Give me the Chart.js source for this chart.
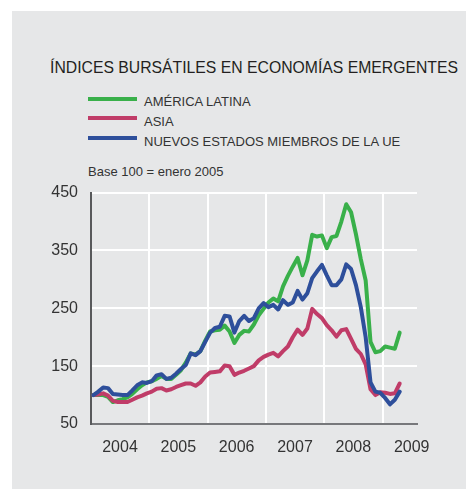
<!DOCTYPE html>
<html>
<head>
<meta charset="utf-8">
<script src="https://cdn.jsdelivr.net/npm/chart.js@4.4.0/dist/chart.umd.min.js"></script>
<style>
  body { margin: 0; width: 466px; height: 489px; background: #fff; position: relative; overflow: hidden;
         font-family: "Liberation Sans", Arial, sans-serif; color: #231f20; }
  #panel { position: absolute; left: 12px; top: 11px; right: 0; bottom: 0; background: #e6e7e8; }
  .txt { position: absolute; white-space: nowrap; }
  #title { left: 50px; top: 59px; font-size: 16.5px; line-height: 16.5px; transform-origin: 0 0; }
  .key { position: absolute; left: 88px; width: 49px; height: 4px; }
  .lbl { left: 144px; font-size: 13px; line-height: 13px; color: #333; }
  #base { left: 88px; top: 165px; font-size: 13px; line-height: 13px; color: #333; }
  #wrap { position: absolute; left: 0; top: 170px; width: 466px; height: 310px; }
</style>
</head>
<body>
<div id="panel"></div>
<div class="txt" id="title">ÍNDICES BURSÁTILES EN ECONOMÍAS EMERGENTES</div>
<div class="key" id="k0" style="top:97px"></div><div class="txt lbl" id="l0" style="top:95px"></div>
<div class="key" id="k1" style="top:116px"></div><div class="txt lbl" id="l1" style="top:115px"></div>
<div class="key" id="k2" style="top:136px"></div><div class="txt lbl" id="l2" style="top:134.5px"></div>
<div class="txt" id="base">Base 100 = enero 2005</div>
<div id="wrap"><canvas id="indices"></canvas></div>
<script>
// monthly index values, Jan 2004 .. Apr 2009
const latam = [100, 100, 100, 97, 88, 91, 93, 96, 102, 110, 117, 122,
  124, 128, 133, 128, 128, 135, 143, 156, 172, 170, 176, 194,
  210, 212, 213, 220, 210, 190, 204, 211, 210, 222, 238, 249,
  260, 267, 262, 288, 306, 322, 337, 307, 333, 377, 374, 376,
  354, 373, 375, 400, 430, 416, 378, 335, 298, 192, 174, 176,
  184, 182, 180, 208];
const asia = [100, 101, 103, 99, 90, 88, 88, 88, 92, 96, 99, 103,
  106, 111, 112, 108, 110, 114, 117, 120, 120, 116, 122, 132,
  139, 140, 141, 151, 150, 135, 139, 142, 146, 150, 160, 166,
  170, 173, 167, 176, 184, 200, 213, 204, 215, 249, 240, 233,
  221, 212, 201, 212, 214, 197, 180, 171, 153, 110, 100, 105,
  104, 102, 103, 120];
const nuevosUE = [100, 106, 113, 112, 102, 101, 100, 100, 108, 117, 122, 121,
  124, 134, 136, 128, 130, 137, 145, 152, 172, 169, 176, 192,
  208, 216, 218, 237, 236, 208, 228, 237, 228, 233, 250, 259,
  252, 256, 248, 264, 256, 260, 280, 265, 276, 302, 314, 325,
  307, 290, 290, 300, 326, 318, 290, 252, 200, 122, 106, 104,
  95, 84, 92, 106];

const seriesNames = ['AMÉRICA LATINA', 'ASIA', 'NUEVOS ESTADOS MIEMBROS DE LA UE'];
const seriesColors = ['#39b04a', '#c03c68', '#2e4f9b'];
const years = ['2004', '2005', '2006', '2007', '2008', '2009'];
const yearStarts = [0, 12, 24, 36, 48, 60];   // months since Jan 2004
const yTicks = [50, 150, 250, 350, 450];

seriesNames.forEach((name, i) => {
  document.getElementById('k' + i).style.background = seriesColors[i];
  document.getElementById('l' + i).textContent = name;
});

// squeeze the heading into its 408px slot
const title = document.getElementById('title');
title.style.transform = 'scaleX(' + (408 / title.getBoundingClientRect().width) + ')';

// points sit mid-month
const toPoints = arr => arr.map((v, i) => ({ x: i + 0.5, y: v }));

const tickFont = { family: '"Liberation Sans", Arial, sans-serif', size: 16 };

new Chart(document.getElementById('indices'), {
  type: 'line',
  data: {
    datasets: [latam, asia, nuevosUE].map((arr, i) => ({
      label: seriesNames[i],
      data: toPoints(arr),
      borderColor: seriesColors[i],
      borderWidth: 4,
      pointRadius: 0,
      tension: 0,
      borderJoinStyle: 'round',
      borderCapStyle: 'round',
      order: [2, 1, 0][i]
    }))
  },
  options: {
    responsive: true,
    maintainAspectRatio: false,
    animation: false,
    layout: { padding: { top: 18, right: 49, bottom: 0, left: 0 } },
    plugins: { legend: { display: false }, tooltip: { enabled: false } },
    scales: {
      x: {
        type: 'linear',
        min: 0,
        max: 67.06,
        afterBuildTicks: s => { s.ticks = yearStarts.map(v => ({ value: v })); },
        afterFit: s => { s.height = 56; },
        grid: {
          drawTicks: false,
          lineWidth: 2,
          color: c => (c.tick && c.tick.value === 0) ? 'rgba(0,0,0,0)' : '#ffffff'
        },
        border: { display: true, color: '#77787b', width: 2 },
        ticks: {
          autoSkip: false,
          maxRotation: 0,
          padding: 14,
          labelOffset: 29,
          color: '#333',
          font: tickFont,
          callback: (v) => years[yearStarts.indexOf(v)]
        }
      },
      y: {
        min: 50,
        max: 450,
        afterBuildTicks: s => { s.ticks = yTicks.map(v => ({ value: v })); },
        afterFit: s => { s.width = 91; },
        grid: {
          drawTicks: false,
          lineWidth: 2,
          color: c => (c.tick && c.tick.value === 50) ? 'rgba(0,0,0,0)' : '#ffffff'
        },
        border: { display: true, color: '#58595b', width: 2 },
        ticks: { padding: 13, color: '#333', font: tickFont }
      }
    }
  }
});
</script>
</body>
</html>
